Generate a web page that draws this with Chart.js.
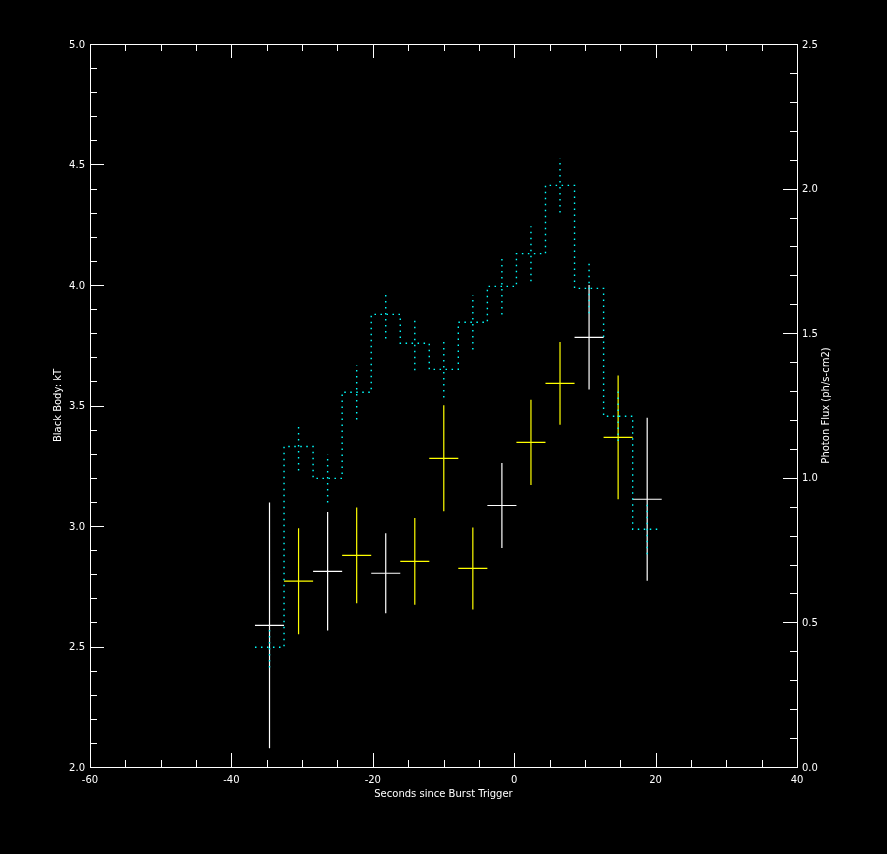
<!DOCTYPE html>
<html>
<head>
<meta charset="utf-8">
<script src="https://cdn.jsdelivr.net/npm/chart.js@4/dist/chart.umd.min.js"></script>
<style>
  html, body { margin: 0; padding: 0; background: #000; }
  canvas { display: block; }
</style>
</head>
<body>
<canvas id="burst" width="887" height="854"></canvas>
<script>
// bin centres (seconds since trigger) and bin width
const binCenters = [-34.61, -30.50, -26.39, -22.28, -18.17, -14.06, -9.96, -5.85, -1.74, 2.37, 6.48, 10.59, 14.70, 18.81];
const binWidth = 4.11;

// black body kT with errors (left axis)
const kT    = [2.588, 2.771, 2.812, 2.878, 2.804, 2.853, 3.281, 2.824, 3.085, 3.347, 3.592, 3.783, 3.368, 3.111];
const kTErr = [0.51, 0.22, 0.246, 0.199, 0.166, 0.18, 0.22, 0.17, 0.176, 0.177, 0.172, 0.217, 0.257, 0.338];
const crossColors = ["#ffffff", "#ffff00", "#ffffff", "#ffff00", "#ffffff", "#ffff00", "#ffff00",
                     "#ffff00", "#ffffff", "#ffff00", "#ffff00", "#ffffff", "#ffff00", "#ffffff"];

// photon flux with errors (right axis)
const flux    = [0.414, 1.108, 0.998, 1.296, 1.565, 1.465, 1.375, 1.538, 1.662, 1.775, 2.011, 1.655, 1.213, 0.822];
const fluxErr = [0.07, 0.083, 0.083, 0.094, 0.083, 0.093, 0.097, 0.094, 0.097, 0.095, 0.094, 0.086, 0.086, 0.086];

// axis ticks
const xTicks = [-60, -40, -20, 0, 20, 40];
const kTTicks = [2.0, 2.5, 3.0, 3.5, 4.0, 4.5, 5.0];
const fluxTicks = [0.0, 0.5, 1.0, 1.5, 2.0, 2.5];

const FONT = '10px "DejaVu Sans"';

// step histogram points
const stepPts = binCenters.map((c, i) => ({ x: c - binWidth / 2, y: flux[i] }));
stepPts.push({ x: binCenters[binCenters.length - 1] + binWidth / 2, y: flux[flux.length - 1] });

// flux error bars, null separated
const fluxBars = [];
binCenters.forEach((c, i) => {
  fluxBars.push({ x: c, y: flux[i] - fluxErr[i] }, { x: c, y: flux[i] + fluxErr[i] }, { x: c, y: null });
});

// kT crosses, one dataset per colour
function crossData(col) {
  const pts = [];
  binCenters.forEach((c, i) => {
    if (crossColors[i] !== col) return;
    pts.push({ x: c, y: kT[i] - kTErr[i] }, { x: c, y: kT[i] + kTErr[i] }, { x: c, y: null });
    pts.push({ x: c - binWidth / 2, y: kT[i] }, { x: c + binWidth / 2, y: kT[i] }, { x: c, y: null });
  });
  return pts;
}

const idlAxes = {
  id: 'idlAxes',
  afterDraw(chart) {
    const ctx = chart.ctx;
    const a = chart.chartArea;
    const xs = chart.scales.x, yl = chart.scales.y, yr = chart.scales.y2;
    ctx.save();
    ctx.strokeStyle = '#fff';
    ctx.fillStyle = '#fff';
    ctx.lineWidth = 1;
    ctx.strokeRect(a.left + 0.5, a.top + 0.5, a.right - a.left, a.bottom - a.top);

    ctx.beginPath();
    // x ticks, bottom and top
    for (let v = -60; v <= 40; v += 5) {
      const px = Math.round(xs.getPixelForValue(v)) + 0.5;
      const len = (v % 20 === 0) ? 14 : 7;
      ctx.moveTo(px, a.bottom); ctx.lineTo(px, a.bottom - len);
      ctx.moveTo(px, a.top); ctx.lineTo(px, a.top + len);
    }
    // left ticks
    for (let k = 0; k <= 30; k++) {
      const v = 2 + k * 0.1;
      const py = Math.round(yl.getPixelForValue(v)) + 0.5;
      const len = (k % 5 === 0) ? 14 : 7;
      ctx.moveTo(a.left, py); ctx.lineTo(a.left + len, py);
    }
    // right ticks
    for (let k = 0; k <= 25; k++) {
      const v = k * 0.1;
      const py = Math.round(yr.getPixelForValue(v)) + 0.5;
      const len = (k % 5 === 0) ? 14 : 7;
      ctx.moveTo(a.right, py); ctx.lineTo(a.right - len, py);
    }
    ctx.stroke();

    ctx.font = FONT;
    ctx.textAlign = 'center';
    ctx.textBaseline = 'middle';
    xTicks.forEach(v => ctx.fillText(String(v), xs.getPixelForValue(v), a.bottom + 13));
    ctx.textAlign = 'right';
    kTTicks.forEach(v => ctx.fillText(v.toFixed(1), a.left - 5, yl.getPixelForValue(v) + 1));
    ctx.textAlign = 'left';
    fluxTicks.forEach(v => ctx.fillText(v.toFixed(1), a.right + 5, yr.getPixelForValue(v) + 1));

    ctx.textAlign = 'center';
    ctx.fillText('Seconds since Burst Trigger', (a.left + a.right) / 2, a.bottom + 27);
    const midY = (a.top + a.bottom) / 2;
    ctx.save();
    ctx.translate(58, midY);
    ctx.rotate(-Math.PI / 2);
    ctx.fillText('Black Body: kT', 0, 0);
    ctx.restore();
    ctx.save();
    ctx.translate(826, midY);
    ctx.rotate(-Math.PI / 2);
    ctx.fillText('Photon Flux (ph/s-cm2)', 0, 0);
    ctx.restore();
    ctx.restore();
  }
};

new Chart(document.getElementById('burst'), {
  type: 'line',
  data: {
    datasets: [{
      data: stepPts,
      yAxisID: 'y2',
      stepped: 'before',
      borderColor: '#00ffff',
      borderWidth: 1.4,
      borderDash: [1.5, 4.5],
      pointRadius: 0,
      fill: false
    }, {
      data: fluxBars,
      yAxisID: 'y2',
      borderColor: '#00ffff',
      borderWidth: 1.4,
      borderDash: [1.5, 4.5],
      pointRadius: 0,
      spanGaps: false
    }, {
      data: crossData('#ffffff'),
      yAxisID: 'y',
      borderColor: '#ffffff',
      borderWidth: 1.2,
      pointRadius: 0,
      spanGaps: false
    }, {
      data: crossData('#ffff00'),
      yAxisID: 'y',
      borderColor: '#ffff00',
      borderWidth: 1.2,
      pointRadius: 0,
      spanGaps: false
    }]
  },
  options: {
    responsive: false,
    animation: false,
    layout: { padding: { left: 90, right: 90, top: 44, bottom: 87 } },
    plugins: { legend: { display: false }, tooltip: { enabled: false } },
    scales: {
      x: { type: 'linear', min: -60, max: 40, display: false },
      y: { type: 'linear', min: 2, max: 5, display: false },
      y2: { type: 'linear', min: 0, max: 2.5, display: false, position: 'right' }
    }
  },
  plugins: [idlAxes]
});
</script>
</body>
</html>
